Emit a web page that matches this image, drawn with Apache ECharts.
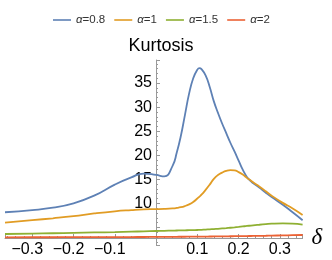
<!DOCTYPE html>
<html><head><meta charset="utf-8">
<script src="https://cdn.jsdelivr.net/npm/echarts@6/dist/echarts.min.js"></script>
<style>html,body{margin:0;padding:0;background:#fff}#c{width:332px;height:260px}</style>
</head><body><div id="c"></div>
<script>
const delta = [-0.366,-0.3,-0.25,-0.2,-0.15,-0.1,-0.06,-0.03,0,0.02,0.04,0.05,0.06,0.07,0.08,0.09,0.1,0.105,0.11,0.12,0.13,0.14,0.15,0.16,0.17,0.18,0.19,0.2,0.21,0.22,0.23,0.24,0.25,0.266,0.28,0.307,0.33,0.355];
const k08 = [8.15,8.6,9.1,10.0,11.6,13.9,15.4,16.2,15.9,15.6,17.8,20.5,24.0,28.4,32.8,36.0,37.8,38.1,37.9,36.6,34.2,31.2,28.8,26.6,24.6,22.6,20.8,18.9,17.0,15.5,14.6,13.9,13.3,12.2,11.3,9.7,8.2,6.5];
const k1  = [6.0,6.5,6.9,7.35,7.9,8.35,8.6,8.75,8.8,8.85,8.95,9.05,9.2,9.45,9.8,10.3,11.0,11.4,11.8,12.8,13.9,15.1,15.9,16.4,16.75,16.9,16.85,16.5,16.0,15.3,14.7,14.1,13.5,12.5,11.6,10.1,9.0,7.6];
const k15 = [3.63,3.72,3.79,3.87,3.95,4.03,4.12,4.19,4.26,4.3,4.34,4.36,4.38,4.4,4.42,4.44,4.46,4.48,4.5,4.55,4.6,4.65,4.71,4.78,4.85,4.93,5.01,5.1,5.2,5.3,5.38,5.47,5.55,5.68,5.78,5.85,5.8,5.6];
const k2  = [2.95,2.96,2.96,2.97,2.98,2.99,3.0,3.01,3.02,3.03,3.04,3.05,3.06,3.065,3.07,3.075,3.08,3.09,3.09,3.1,3.11,3.12,3.13,3.14,3.15,3.16,3.17,3.18,3.195,3.21,3.22,3.235,3.25,3.27,3.3,3.34,3.38,3.42];
const names = ['α=0.8','α=1','α=1.5','α=2'];
const colors = ['#5E81B5','#E19C24','#8FB032','#EB6235'];
const xTickLabels = ['−0.3','−0.2','−0.1','0.1','0.2','0.3'];
const yTickLabels = [10,15,20,25,30,35];

const seriesVals = [k08,k1,k15,k2];
const font = 'Liberation Sans, Arial, sans-serif';
const axisGray = '#999';
const chart = echarts.init(document.getElementById('c'));
chart.setOption({
  animation:false,
  title:{text:'Kurtosis',left:156,top:32,textAlign:'center',
    textStyle:{fontFamily:font,fontSize:18,fontWeight:'normal',color:'#000'}},
  legend:{top:9,left:48,icon:'rect',itemWidth:18,itemHeight:1.6,itemGap:9,
    data:names,
    formatter:n=>'{i|α}{t|'+n.slice(1)+'}',
    textStyle:{fontFamily:font,fontSize:11.5,color:'#333',
      rich:{i:{fontStyle:'italic',fontSize:11.5,fontFamily:font,color:'#333'},t:{fontSize:11.5,fontFamily:font,color:'#333'}}}},
  grid:[{left:5,right:29.4,top:60,bottom:22,containLabel:false,outerBoundsMode:'none'},
        {left:156,width:1,top:60,bottom:15,containLabel:false,outerBoundsMode:'none'}],
  xAxis:[{type:'value',gridIndex:0,min:-0.366,max:0.355,minInterval:0.1,maxInterval:0.1,
    name:'δ',nameLocation:'end',nameGap:9,
    nameTextStyle:{fontFamily:'Liberation Serif, DejaVu Serif, serif',fontStyle:'italic',fontSize:23,color:'#000',verticalAlign:'middle'},
    axisLine:{onZero:false,lineStyle:{color:axisGray,width:1}},
    axisTick:{inside:true,length:4,lineStyle:{color:axisGray}},
    minorTick:{show:true,splitNumber:5,length:2,lineStyle:{color:axisGray}},
    splitLine:{show:false},
    axisLabel:{margin:4,fontFamily:font,fontSize:16,color:'#000',showMinLabel:true,showMaxLabel:true,
      rich:{neg:{fontFamily:font,fontSize:16,color:'#000',padding:[0,10,0,0]}},
      formatter:v=>{const r=Math.round(v*10)/10;if(Math.abs(v-r)>1e-6||r===0)return '';
        const s=(r<0?'−':'')+Math.abs(r).toFixed(1);
        if(xTickLabels.indexOf(s)<0)return '';
        return r<0?'{neg|'+s+'}':s;}}},
    {type:'value',gridIndex:1,min:0,max:1,show:false}],
  yAxis:[{type:'value',gridIndex:0,min:2.8,max:39.8,show:false},
    {type:'value',gridIndex:1,min:1.34,max:39.8,minInterval:5,maxInterval:5,position:'left',
    axisLine:{show:true,onZero:false,lineStyle:{color:axisGray,width:1}},
    axisTick:{show:true,inside:true,length:4,lineStyle:{color:axisGray}},
    minorTick:{show:true,splitNumber:5,length:2,lineStyle:{color:axisGray}},
    splitLine:{show:false},
    axisLabel:{margin:4,fontFamily:font,fontSize:16,color:'#000',showMinLabel:true,showMaxLabel:true,
      formatter:v=>yTickLabels.indexOf(Math.round(v))>=0&&Math.abs(v-Math.round(v))<1e-6?String(Math.round(v)):''}}],
  series:names.map((n,i)=>({name:n,type:'line',xAxisIndex:0,yAxisIndex:0,symbol:'none',smooth:0.5,
    lineStyle:{color:colors[i],width:1.8},itemStyle:{color:colors[i]},
    data:delta.map((d,j)=>[d,seriesVals[i][j]])}))
});
</script></body></html>
